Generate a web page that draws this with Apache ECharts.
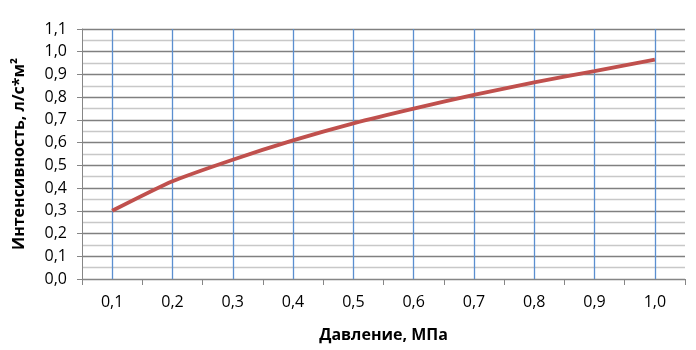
<!DOCTYPE html>
<html>
<head>
<meta charset="utf-8">
<script src="https://cdn.jsdelivr.net/npm/echarts@6/dist/echarts.min.js"></script>
<style>html,body{margin:0;padding:0;background:#fff}#c{width:696px;height:350px}</style>
</head>
<body>
<div id="c"></div>
<script>
const categories = ['0,1','0,2','0,3','0,4','0,5','0,6','0,7','0,8','0,9','1,0'];
const intensity = [0.30, 0.43, 0.525, 0.61, 0.685, 0.75, 0.81, 0.865, 0.915, 0.965];
const xAxisName = 'Давление, МПа';
const yAxisName = 'Интенсивность, л/с*м²';

const FONT = 'Open Sans';
const chart = echarts.init(document.getElementById('c'));
chart.setOption({
  animation: false,
  grid: { left: 82, right: 11, top: 29, bottom: 71 },
  xAxis: [{
    type: 'category',
    data: categories,
    boundaryGap: true,
    name: xAxisName,
    nameLocation: 'middle',
    nameGap: 48,
    nameTextStyle: { fontFamily: FONT, fontWeight: 'bold', fontSize: 16, color: '#000' },
    axisLine: { lineStyle: { color: '#868686', width: 1 } },
    axisTick: { show: true, length: 6, lineStyle: { color: '#868686' } },
    axisLabel: { fontFamily: FONT, fontSize: 16, color: '#000', margin: 15 },
    splitLine: { show: false }
  }, {
    type: 'value',
    min: 0, max: 20, interval: 1,
    show: true,
    position: 'bottom',
    axisLine: { show: false },
    axisTick: { show: false },
    axisLabel: { show: false },
    splitLine: { show: true, lineStyle: { color: ['rgba(0,0,0,0)', '#5b8fd0'], width: 1.3 } }
  }],
  yAxis: {
    type: 'value',
    min: 0, max: 1.1, interval: 0.1,
    name: yAxisName,
    nameLocation: 'middle',
    nameGap: 55,
    nameTextStyle: { fontFamily: FONT, fontWeight: 'bold', fontSize: 16, color: '#000' },
    axisLine: { show: true, lineStyle: { color: '#868686', width: 1 } },
    axisTick: { show: true, length: 5, lineStyle: { color: '#868686' } },
    axisLabel: { fontFamily: FONT, fontSize: 16, color: '#000', margin: 15,
      formatter: v => v.toFixed(1).replace('.', ',') },
    splitLine: { show: true, lineStyle: { color: '#808080', width: 1.3 } },
    minorTick: { show: false, splitNumber: 2 },
    minorSplitLine: { show: true, lineStyle: { color: '#c8c8c8', width: 1.3 } }
  },
  series: [{
    type: 'line',
    data: intensity,
    xAxisIndex: 0,
    symbol: 'none',
    smooth: 0.2,
    lineStyle: { color: '#c0504d', width: 3.8 },
    z: 5
  }]
});
</script>
</body>
</html>
